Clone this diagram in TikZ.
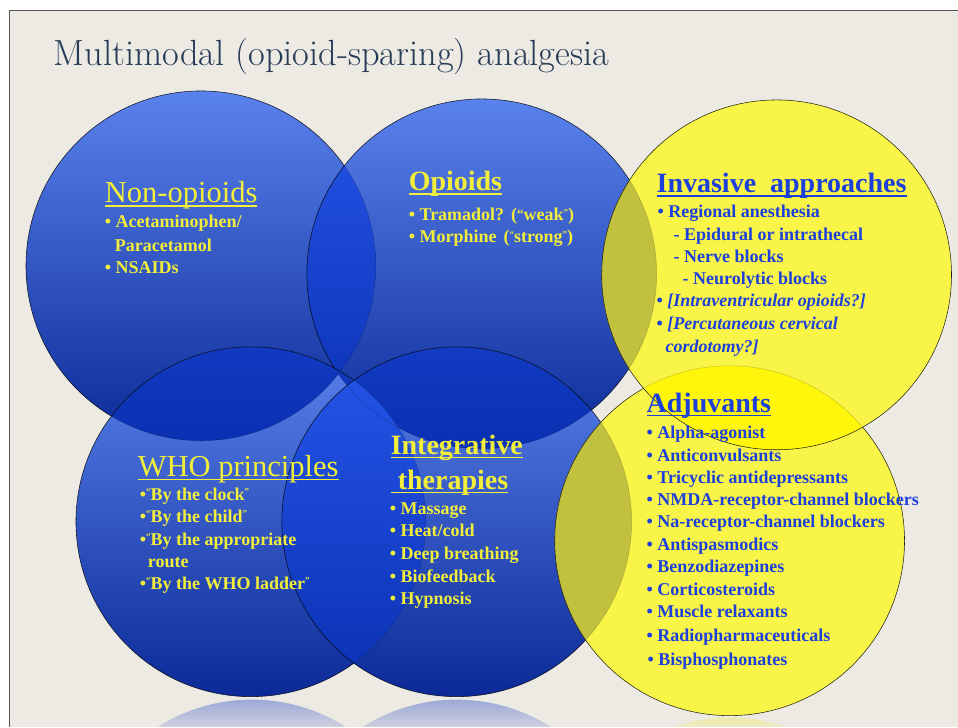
\documentclass[tikz,border=0pt]{standalone}
\usepackage{fontspec}
\newfontfamily\bodyfont{Liberation Serif}
\definecolor{bgbeige}{HTML}{EDEAE4}
\definecolor{bordergray}{HTML}{555555}
\definecolor{titleC}{HTML}{263B56}
\definecolor{bTop}{HTML}{5A82EC}
\definecolor{bMid}{HTML}{2F54D0}
\definecolor{bBot}{HTML}{0B2A98}
\definecolor{oTop}{HTML}{2656EA}
\definecolor{oMid}{HTML}{1441D6}
\definecolor{oBot}{HTML}{0A30B2}
\definecolor{yel}{HTML}{F8F548}
\definecolor{olive}{HTML}{C2C13F}
\definecolor{yelOv}{HTML}{FFF60C}
\definecolor{textY}{HTML}{F2EE3A}
\definecolor{textB}{HTML}{1E40DA}
\definecolor{reflB}{HTML}{9AA8D6}
\definecolor{reflY}{HTML}{EEEAA6}
\newcommand{\sq}[1]{\raisebox{0.32em}{\fontsize{9}{9}\selectfont #1}}
\newcommand{\mq}[1]{\raisebox{0.12em}{\fontsize{13}{13}\selectfont #1}}
\def\RR{175}
\begin{document}
\begin{tikzpicture}[x=1pt,y=-1pt,
 every node/.style={inner sep=0pt,outer sep=0pt,anchor=base west},
 blueshade/.style={top color=bTop,middle color=bMid,bottom color=bBot},
 ovshade/.style={top color=oTop,middle color=oMid,bottom color=oBot},
 outl/.style={draw=black,line width=0.55pt,draw opacity=0.85},
 faint/.style={draw=black,line width=0.5pt,draw opacity=0.2},
 ytxt/.style={text=textY,font=\bodyfont\bfseries\fontsize{18}{18}\selectfont},
 btxt/.style={text=textB,font=\bodyfont\bfseries\fontsize{18}{18}\selectfont},
 bitxt/.style={text=textB,font=\bodyfont\bfseries\itshape\fontsize{18}{18}\selectfont},
 yhead/.style={text=textY,font=\bodyfont\fontsize{30.5}{30.5}\selectfont},
 yheadb/.style={text=textY,font=\bodyfont\bfseries\fontsize{28}{28}\selectfont},
 bheadb/.style={text=textB,font=\bodyfont\bfseries\fontsize{28}{28}\selectfont},
 yul/.style={draw=textY,line width=1.4pt},
 bul/.style={draw=textB,line width=1.4pt}]
% background and frame
\fill[white] (0,0) rectangle (958,727);
\fill[bgbeige] (10,11) rectangle (958,727);
\draw[bordergray,line width=1pt] (10,727) -- (10,11) -- (958,11);
\useasboundingbox (0,0) rectangle (958,727);
% circle centres
\coordinate (c1) at (201,266);
\coordinate (c2) at (482,274);
\coordinate (c3) at (777,275);
\coordinate (c4) at (251,522);
\coordinate (c5) at (457,522);
\coordinate (c6) at (730,541);
\coordinate (r4) at (252,875);
\coordinate (r5) at (457,875);
\coordinate (r6) at (730,893);
% reflections
\begin{scope}
 \clip (r4) circle[radius=\RR];
 \shade[top color=reflB,bottom color=reflB!40!bgbeige] (60,699) rectangle (450,727);
\end{scope}
\begin{scope}
 \clip (r5) circle[radius=\RR];
 \shade[top color=reflB,bottom color=reflB!40!bgbeige] (270,699) rectangle (650,727);
\end{scope}
\begin{scope}
 \clip (r6) circle[radius=\RR];
 \shade[top color=reflY,bottom color=reflY!50!bgbeige] (540,717) rectangle (920,727);
\end{scope}
% circle 1
\shade[blueshade] (c1) circle[radius=\RR];
\draw[outl] (c1) circle[radius=\RR];
% circle 2
\shade[blueshade] (c2) circle[radius=\RR];
\begin{scope}
 \clip (c2) circle[radius=\RR];
 \shade[ovshade] (c1) circle[radius=\RR];
 \draw[faint] (c1) circle[radius=\RR];
\end{scope}
\draw[outl] (c2) circle[radius=\RR];
% circle 4
\shade[blueshade] (c4) circle[radius=\RR];
\begin{scope}
 \clip (c4) circle[radius=\RR];
 \shade[ovshade] (c1) circle[radius=\RR];
 \shade[ovshade] (c2) circle[radius=\RR];
 \draw[faint] (c1) circle[radius=\RR];
 \draw[faint] (c2) circle[radius=\RR];
\end{scope}
\draw[outl] (c4) circle[radius=\RR];
% circle 5
\shade[blueshade] (c5) circle[radius=\RR];
\begin{scope}
 \clip (c5) circle[radius=\RR];
 \shade[ovshade] (c2) circle[radius=\RR];
 \shade[ovshade] (c4) circle[radius=\RR];
 \draw[faint] (c2) circle[radius=\RR];
 \draw[faint] (c4) circle[radius=\RR];
\end{scope}
\draw[outl] (c5) circle[radius=\RR];
% circle 6
\fill[yel] (c6) circle[radius=\RR];
\begin{scope}
 \clip (c6) circle[radius=\RR];
 \fill[olive] (c5) circle[radius=\RR];
 \draw[faint] (c5) circle[radius=\RR];
\end{scope}
\draw[outl] (c6) circle[radius=\RR];
% circle 3
\fill[yel] (c3) circle[radius=\RR];
\begin{scope}
 \clip (c3) circle[radius=\RR];
 \fill[olive] (c2) circle[radius=\RR];
 \fill[yelOv] (c6) circle[radius=\RR];
 \draw[faint] (c2) circle[radius=\RR];
 \draw[faint] (c6) circle[radius=\RR];
\end{scope}
\draw[outl] (c3) circle[radius=\RR];
% title
\node[text=titleC,font=\fontsize{36.4}{36.4}\selectfont] (title) at (54,66) {Multimodal (opioid-sparing) analgesia};
% Non-opioids
\node[yhead] (h1) at (105,203) {Non-opioids};
\draw[yul] ([yshift=-3pt]h1.base west) -- ([yshift=-3pt]h1.base east);
\node[ytxt] (t11) at (105,228) {• Acetaminophen/};
\node[ytxt] (t12) at (115,252) {Paracetamol};
\node[ytxt] (t13) at (105,274) {• NSAIDs};
% Opioids
\node[yheadb] (h2) at (409,191) {Opioids};
\draw[yul] ([yshift=-3pt]h2.base west) -- ([yshift=-3pt]h2.base east);
\node[ytxt] (t21) at (409,221) {• Tramadol?\hspace{7pt}(\mq{“}weak\sq{”})};
\node[ytxt] (t22) at (409,243) {• Morphine\hspace{7pt}(\sq{“}strong\sq{”})};
% Invasive approaches
\node[bheadb] (h3) at (657,193) {Invasive\hspace{0.5em}approaches};
\draw[bul] ([yshift=-3pt]h3.base west) -- ([yshift=-3pt]h3.base east);
\node[btxt] (t31) at (658,218) {• Regional anesthesia};
\node[btxt] (t32) at (674,241) {- Epidural or intrathecal};
\node[btxt] (t33) at (674,263) {- Nerve blocks};
\node[btxt] (t34) at (683,285) {- Neurolytic blocks};
\node[btxt] (t35) at (657,307) {• \textit{[Intraventricular opioids?]}};
\node[btxt] (t36) at (657,330) {• \textit{[Percutaneous cervical}};
\node[bitxt] (t37) at (666,353) {cordotomy?]};
% WHO principles
\node[yhead] (h4) at (138,477) {WHO principles};
\draw[yul] ([yshift=-3pt]h4.base west) -- ([yshift=-3pt]h4.base east);
\node[ytxt] (t41) at (140,501) {•\sq{“}By the clock\sq{”}};
\node[ytxt] (t42) at (140,523) {•\sq{“}By the child\sq{”}};
\node[ytxt] (t43) at (140,546) {•\sq{“}By the appropriate};
\node[ytxt] (t44) at (148,568) {route};
\node[ytxt] (t45) at (140,590) {•\sq{“}By the WHO ladder\sq{”}};
% Integrative therapies
\node[yheadb] (h5) at (391,455) {Integrative};
\draw[yul] ([yshift=-3pt]h5.base west) -- ([yshift=-3pt]h5.base east);
\node[yheadb] (h6) at (391,490) {\hspace*{7pt}therapies};
\draw[yul] ([yshift=-3pt]h6.base west) -- ([yshift=-3pt]h6.base east);
\node[ytxt] (t51) at (390,515) {• Massage};
\node[ytxt] (t52) at (390,537) {• Heat/cold};
\node[ytxt] (t53) at (390,560) {• Deep breathing};
\node[ytxt] (t54) at (390,583) {• Biofeedback};
\node[ytxt] (t55) at (390,605) {• Hypnosis};
% Adjuvants
\node[bheadb] (h7) at (647,413) {Adjuvants};
\draw[bul] ([yshift=-3pt]h7.base west) -- ([yshift=-3pt]h7.base east);
\node[btxt] (t61) at (647,439) {• Alpha-agonist};
\node[btxt] (t62) at (647,462) {• Anticonvulsants};
\node[btxt] (t63) at (647,484) {• Tricyclic antidepressants};
\node[btxt] (t64) at (647,506) {• NMDA-receptor-channel blockers};
\node[btxt] (t65) at (647,528) {• Na-receptor-channel blockers};
\node[btxt] (t66) at (647,551) {• Antispasmodics};
\node[btxt] (t67) at (647,573) {• Benzodiazepines};
\node[btxt] (t68) at (647,596) {• Corticosteroids};
\node[btxt] (t69) at (647,618) {• Muscle relaxants};
\node[btxt] (t6a) at (647,642) {• Radiopharmaceuticals};
\node[btxt] (t6b) at (648,666) {• Bisphosphonates};
\end{tikzpicture}
\end{document}
